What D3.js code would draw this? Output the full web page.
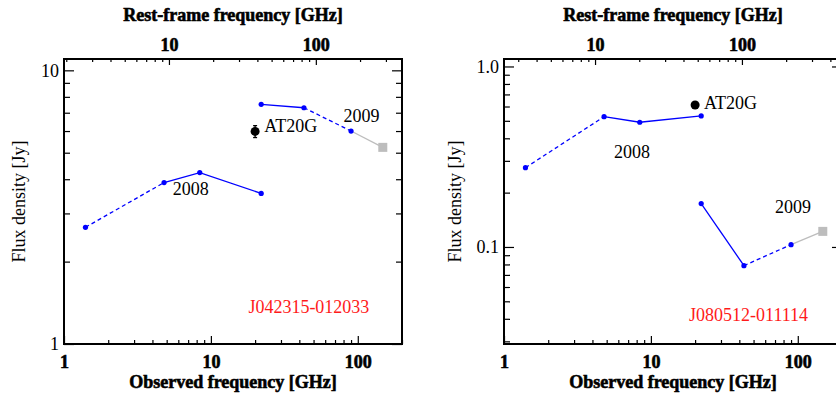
<!DOCTYPE html>
<html>
<head>
<meta charset="utf-8">
<script src="https://cdn.jsdelivr.net/npm/d3@7"></script>
<style>
  body { margin: 0; background: #fff; }
</style>
</head>
<body>
<script>
'use strict';

// observed frequencies [GHz]
const freq2008 = [1.4, 4.8, 8.4, 22];
const freq2009 = [22, 43, 90];
const freqAct = 148;
const freqAt20g = 20;

// J042315-012033 fluxes [Jy]
const fluxA2008 = [2.67, 3.89, 4.23, 3.55];
const fluxA2009 = [7.51, 7.30, 6.0];
const fluxAAct = 5.23;
const fluxAAt20g = 5.98;
const errAAt20g = 0.3;

// J080512-011114 fluxes [Jy]
const fluxB2008 = [0.275, 0.527, 0.491, 0.532];
const fluxB2009 = [0.174, 0.0788, 0.103];
const fluxBAct = 0.122;
const fluxBAt20g = 0.612;
const errBAt20g = 0.025;

// label anchors [GHz, Jy]
const labelsA = [["2008", 5.5, 3.5], ["2009", 80, 6.48], ["AT20G", 23.1, 5.95]];
const labelsB = [["2008", 5.6, 0.311], ["2009", 70, 0.154], ["AT20G", 23, 0.581]];

(function() {

  let serif = "Liberation Serif";

  const panels = [
    { name: "J042315-012033", z1: 1.93, yDomain: [1, 11], yTicks: [1, 10], yFmt: d3.format("d"),
      f2008: fluxA2008, f2009: fluxA2009, act: fluxAAct, at: fluxAAt20g, err: errAAt20g,
      labels: labelsA, nameAt: [18, 1.30], left: 64, titleOff: 45 },
    { name: "J080512-011114", z1: 2.4, yDomain: [0.029, 1.1], yTicks: [0.1, 1], yFmt: d3.format(".1f"),
      f2008: fluxB2008, f2009: fluxB2009, act: fluxBAct, at: fluxBAt20g, err: errBAt20g,
      labels: labelsB, nameAt: [18.2, 0.0389], left: 504, titleOff: 49 }
  ];

  let width = 836, height = 396;
  let plotTop = 59, plotBottom = 344, plotW = 338;

  let svg = d3.select("body").append("svg")
    .attr("width", width).attr("height", height)
    .style("font-family", serif);

  // all 1..9 x 10^k values within a range
  function logTicks(lo, hi) {
    let out = [];
    for (let k = Math.floor(Math.log10(lo)); k <= Math.ceil(Math.log10(hi)); k++) {
      for (let m = 1; m < 10; m++) {
        let v = m * Math.pow(10, k);
        if (v >= lo * 0.999 && v <= hi * 1.001) out.push(v);
      }
    }
    return out;
  }
  function isMajor(v) {
    let l = Math.log10(v);
    return Math.abs(l - Math.round(l)) < 1e-6;
  }

  function styleAxis(g) {
    g.attr("font-family", null);
    g.select(".domain").remove();
    g.selectAll("line").attr("stroke", "#000").attr("stroke-width", 1.2);
  }

  function addText(g, str) {
    return g.append("text").style("font-family", serif).attr("font-size", 18).text(str);
  }

  panels.forEach(p => {
    let g = svg.append("g");
    let x = d3.scaleLog().domain([1, 200]).range([p.left, p.left + plotW]);
    let y = d3.scaleLog().domain(p.yDomain).range([plotBottom, plotTop]);
    let xr = d3.scaleLog().domain([p.z1, 200 * p.z1]).range([p.left, p.left + plotW]);

    let xt = logTicks(1, 200);
    let yt = logTicks(p.yDomain[0], p.yDomain[1]);
    let rt = logTicks(p.z1, 200 * p.z1);

    // bottom axis
    g.append("g").attr("transform", `translate(0,${plotBottom})`)
      .call(d3.axisBottom(x).tickValues(xt.filter(d => !isMajor(d))).tickSize(-4).tickFormat(""))
      .call(styleAxis);
    g.append("g").attr("transform", `translate(0,${plotBottom})`)
      .call(d3.axisBottom(x).tickValues(xt.filter(isMajor)).tickSize(-8).tickFormat(d3.format("d")))
      .call(styleAxis)
      .call(a => a.selectAll("text").attr("y", 11).attr("dy", "0.71em")
        .style("font-family", serif).attr("font-size", 18).attr("font-weight", "bold")
        .attr("stroke", "#000").attr("stroke-width", 0.6).attr("fill", "#000"));

    // top axis, rest frame
    g.append("g").attr("transform", `translate(0,${plotTop})`)
      .call(d3.axisTop(xr).tickValues(rt.filter(d => !isMajor(d))).tickSize(-3).tickFormat(""))
      .call(styleAxis);
    g.append("g").attr("transform", `translate(0,${plotTop})`)
      .call(d3.axisTop(xr).tickValues(rt.filter(isMajor)).tickSize(-6).tickFormat(d3.format("d")))
      .call(styleAxis)
      .call(a => a.selectAll("text").attr("y", -8)
        .style("font-family", serif).attr("font-size", 18).attr("font-weight", "bold")
        .attr("stroke", "#000").attr("stroke-width", 0.6).attr("fill", "#000"));

    // left and right axes
    g.append("g").attr("transform", `translate(${p.left},0)`)
      .call(d3.axisLeft(y).tickValues(yt.filter(d => !isMajor(d))).tickSize(-6).tickFormat(""))
      .call(styleAxis);
    g.append("g").attr("transform", `translate(${p.left},0)`)
      .call(d3.axisLeft(y).tickValues(p.yTicks).tickSize(-10).tickFormat(p.yFmt))
      .call(styleAxis)
      .call(a => a.selectAll("text").attr("x", -5)
        .style("font-family", serif).attr("font-size", 18).attr("fill", "#000"));
    g.append("g").attr("transform", `translate(${p.left + plotW},0)`)
      .call(d3.axisRight(y).tickValues(yt.filter(d => !isMajor(d))).tickSize(-6).tickFormat(""))
      .call(styleAxis);
    g.append("g").attr("transform", `translate(${p.left + plotW},0)`)
      .call(d3.axisRight(y).tickValues(p.yTicks).tickSize(-10).tickFormat(""))
      .call(styleAxis);

    // frame
    g.append("rect")
      .attr("x", p.left).attr("y", plotTop)
      .attr("width", plotW).attr("height", plotBottom - plotTop)
      .attr("fill", "none").attr("stroke", "#000").attr("stroke-width", 2);

    // titles
    let cx = p.left + plotW / 2;
    addText(g, "Observed frequency [GHz]")
      .attr("x", cx).attr("y", 388).attr("text-anchor", "middle")
      .attr("font-weight", "bold").attr("stroke", "#000").attr("stroke-width", 0.6);
    addText(g, "Rest-frame frequency [GHz]")
      .attr("x", cx).attr("y", 21).attr("text-anchor", "middle")
      .attr("font-weight", "bold").attr("stroke", "#000").attr("stroke-width", 0.6);
    addText(g, "Flux density [Jy]")
      .attr("transform", `translate(${p.left - p.titleOff},${(plotTop + plotBottom) / 2}) rotate(-90)`)
      .attr("dy", "0.35em").attr("text-anchor", "middle");

    // spectra
    let line = d3.line().x(d => x(d[0])).y(d => y(d[1]));
    let pts2008 = freq2008.map((f, i) => [f, p.f2008[i]]);
    let pts2009 = freq2009.map((f, i) => [f, p.f2009[i]]);
    let segs = [
      [pts2008.slice(0, 2), true],
      [pts2008.slice(1), false],
      [pts2009.slice(0, 2), false],
      [pts2009.slice(1), true]
    ];
    segs.forEach(s => {
      g.append("path").attr("d", line(s[0]))
        .attr("fill", "none").attr("stroke", "#0000ff").attr("stroke-width", 1.3)
        .attr("stroke-dasharray", s[1] ? "4,3" : null);
    });
    g.append("path").attr("d", line([pts2009[2], [freqAct, p.act]]))
      .attr("fill", "none").attr("stroke", "#bdbdbd").attr("stroke-width", 1.3);

    g.selectAll("circle.dot").data(pts2008.concat(pts2009)).enter()
      .append("circle").attr("class", "dot")
      .attr("cx", d => x(d[0])).attr("cy", d => y(d[1])).attr("r", 2.6)
      .attr("fill", "#0000ff");

    g.append("rect")
      .attr("x", x(freqAct) - 4.5).attr("y", y(p.act) - 4.5)
      .attr("width", 9).attr("height", 9).attr("fill", "#bdbdbd");

    // AT20G point with error bar
    g.append("line")
      .attr("x1", x(freqAt20g)).attr("x2", x(freqAt20g))
      .attr("y1", y(p.at + p.err)).attr("y2", y(p.at - p.err))
      .attr("stroke", "#000").attr("stroke-width", 1.3);
    [p.at + p.err, p.at - p.err].forEach(v => {
      g.append("line")
        .attr("x1", x(freqAt20g) - 2).attr("x2", x(freqAt20g) + 2)
        .attr("y1", y(v)).attr("y2", y(v))
        .attr("stroke", "#000").attr("stroke-width", 1.3);
    });
    g.append("circle")
      .attr("cx", x(freqAt20g)).attr("cy", y(p.at)).attr("r", 4.5).attr("fill", "#000");

    // labels
    p.labels.forEach(l => {
      addText(g, l[0]).attr("x", x(l[1])).attr("y", y(l[2])).attr("fill", "#000");
    });
    addText(g, p.name).attr("x", x(p.nameAt[0])).attr("y", y(p.nameAt[1]))
      .attr("fill", "#ff1a1a");
  });

})();
</script>
</body>
</html>
